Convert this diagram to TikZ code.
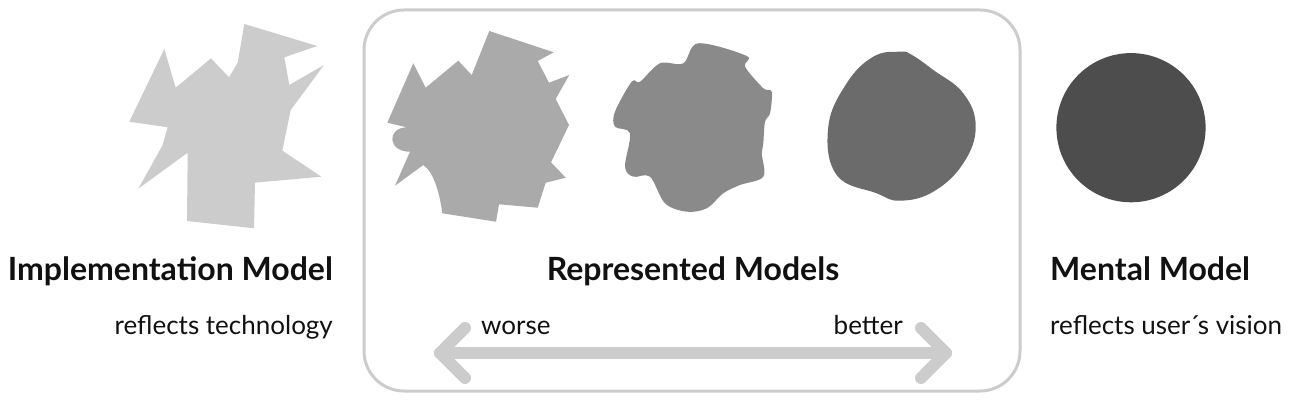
\documentclass[tikz,border=0pt]{standalone}
\usepackage{fontspec}
\setmainfont{Lato}
\usetikzlibrary{calc}
\definecolor{cA}{HTML}{CCCCCC}
\definecolor{cB}{HTML}{AAAAAA}
\definecolor{cC}{HTML}{8A8A8A}
\definecolor{cD}{HTML}{6B6B6B}
\definecolor{cE}{HTML}{4D4D4D}
\definecolor{txt}{HTML}{111111}
\tikzset{
  heading/.style={font=\fontsize{32}{38}\selectfont\bfseries, text=txt, inner sep=0pt},
  sub/.style={font=\fontsize{26}{30}\selectfont, text=txt, inner sep=0pt},
  framebox/.style={draw=cA, line width=3pt, rounded corners=40pt},
  arrowline/.style={draw=cA, line width=12pt, line cap=round, line join=round},
}
\begin{document}
\begin{tikzpicture}[x=1pt,y=-1pt]
\useasboundingbox (0,0) rectangle (1307,401);
% frame
\draw[framebox] (364,10) rectangle (1020,391);
% implementation model shape
\fill[cA] (164.3,49) -- (175.7,87.7) -- (211,58.3) -- (229,77.3) -- (237.7,62.7) -- (244.3,24)
  -- (317.3,46) -- (284.3,57.3) -- (289.3,85) -- (324,65) -- (290.7,110) -- (282.3,150.7)
  -- (321.3,176.7) -- (255,182.7) -- (254,228.3) -- (187,221) -- (187.7,152.7) -- (138.3,188.7)
  -- (162.3,145.7) -- (167.7,127.3) -- (129.3,121.7) -- cycle;
% represented 1
\fill[cB] (413.3,63.3) -- (425.7,87.7) -- (458.3,60.7) -- (471.7,75) -- (489.3,31)
  -- (553.7,52.3) -- (537.7,61) -- (549,82.7) -- (569.3,75) -- (555.7,99) -- (569,125)
  -- (551,162.3) -- (565.7,177.7) -- (545.7,182.7) -- (537.7,207.7) -- (499,204.3)
  -- (496,221.7) -- (442.3,213.3) .. controls (440,195) and (434,172) .. (423.3,165)
  -- (395,185.7) -- (410,151.7) .. controls (388,152) and (386,128) .. (406.7,127.3)
  -- (387.3,122.7) -- cycle;
% represented 2
\fill[cC] plot[smooth cycle, tension=0.55] coordinates {
  (698.3,43.3) (746.7,56) (745,66.7) (763.3,88.3) (771.7,91.7) (770,113.3) (765,121.7)
  (763.3,143.3) (761.7,153.3) (763.3,176.7) (740,185) (723.3,193.3) (706.7,208.3)
  (686.7,211.7) (665,203.3) (650,176.7) (633.3,176.7) (625,166.7) (630,133.3)
  (615,126.7) (615,111.7) (631.7,81.7) (640,81.7) (660,63.3) (683.3,63.3)};
% represented 3
\fill[cD] plot[smooth cycle, tension=0.7] coordinates {
  (900,51.7) (912,55) (933.3,70) (963.3,93.3) (975.7,126.7) (963.3,163.3) (933.3,191.7)
  (900,200.7) (876.7,193.3) (836.7,175) (828.3,126.7) (846.7,83.3) (873.3,56.7)};
% mental model
\fill[cE] (1131,127.7) circle[radius=74.6];
% texts
\node[heading, anchor=base east] (impl) at (333,280) {Implementation Model};
\node[sub, anchor=base east] (implsub) at (333,334) {reflects technology};
\node[heading, anchor=base] (repr) at (693,280) {Represented Models};
\node[heading, anchor=base west] (ment) at (1050,280) {Mental Model};
\node[sub, anchor=base west] (mentsub) at (1050,334) {reflects user\kern-1pt´\kern-2pt s vision};
\node[sub, anchor=base west] (worse) at (481,334) {worse};
\node[sub, anchor=base east] (better) at (903,334) {better};
% arrow
\coordinate (L) at (440,353);
\coordinate (R) at (946,353);
\draw[arrowline] (L) -- (R);
\draw[arrowline] ($(L)+(25,-25)$) -- (L) -- ($(L)+(25,25)$);
\draw[arrowline] ($(R)+(-25,-25)$) -- (R) -- ($(R)+(-25,25)$);
\end{tikzpicture}
\end{document}
